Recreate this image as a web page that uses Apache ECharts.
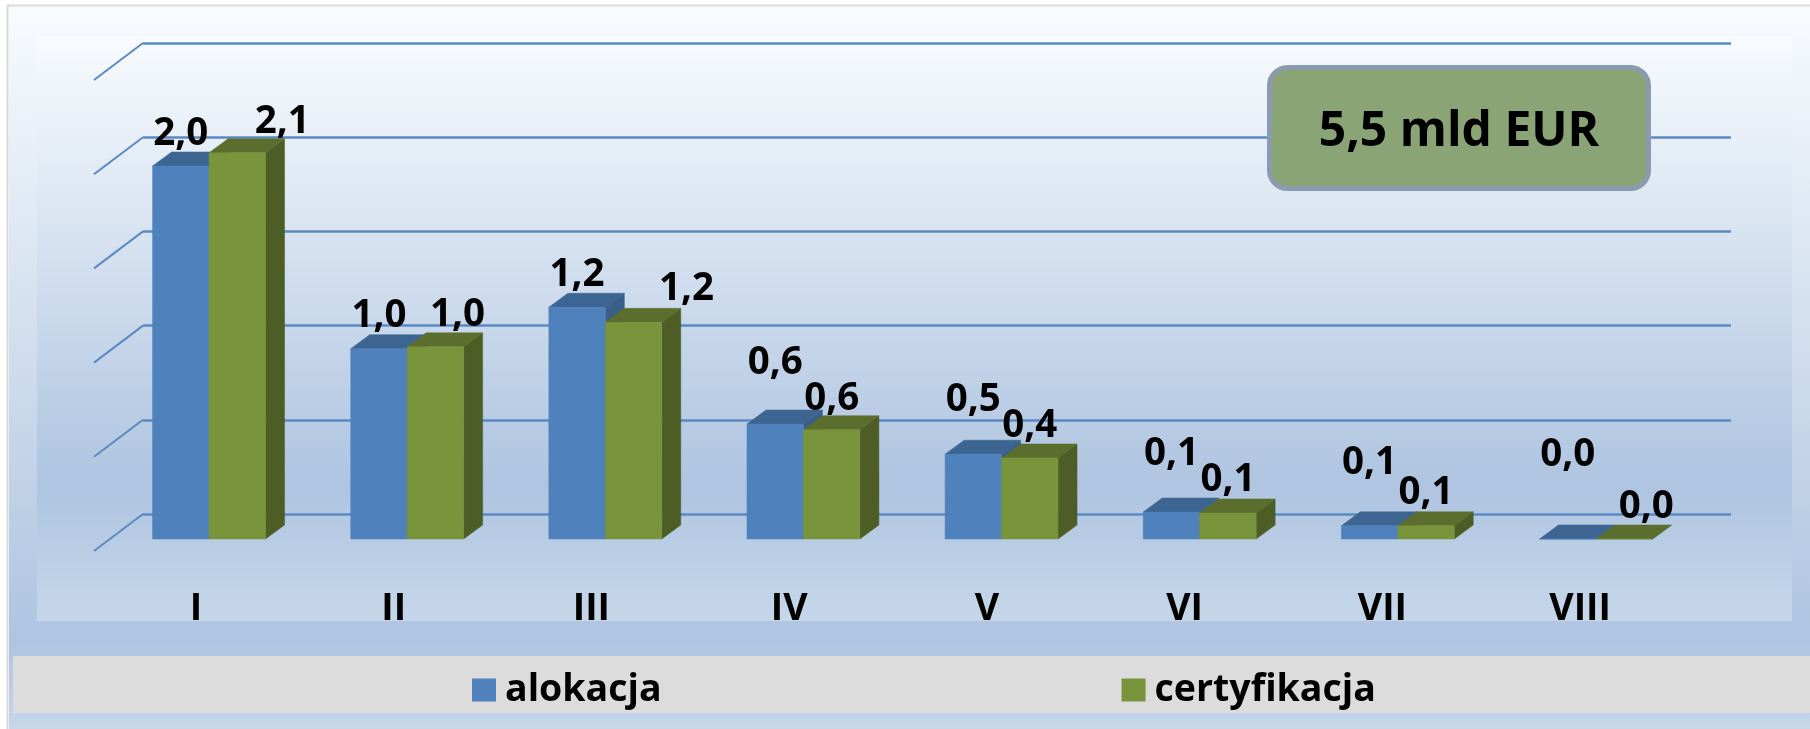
<!DOCTYPE html>
<html>
<head>
<meta charset="utf-8">
<style>html,body{margin:0;padding:0;background:#fff}#c{width:1810px;height:729px}</style>
<script src="https://cdn.jsdelivr.net/npm/echarts@6/dist/echarts.min.js"></script>
</head>
<body>
<div id="c"></div>
<script>
const categories = ['I','II','III','IV','V','VI','VII','VIII'];
const alokacja = [1.98,1.01,1.23,0.61,0.45,0.143,0.07,0];
const certyfikacja = [2.05,1.02,1.15,0.58,0.43,0.138,0.07,0];
const alokacjaLabels = ['2,0','1,0','1,2','0,6','0,5','0,1','0,1','0,0'];
const certyfikacjaLabels = ['2,1','1,0','1,2','0,6','0,4','0,1','0,1','0,0'];
const wallTicks = [0,0.5,1,1.5,2,2.5];
const noteText = '5,5 mld EUR';

const labelShiftA = [[0,-32],[0,-33],[0,-32],[0,-61],[0,-54],[0,-58],[0,-63],[0,-84]];
const labelShiftC = [[45,-31],[22,-32],[53,-33],[0,-31],[0,-32],[0,-33],[0,-33],[22,-32]];

const FONT = '"Open Sans"';
const DEPTH_X = 19, DEPTH_Y = 14, WALL_X = 49, WALL_Y = 37;

function barSeries(name, values, labels, shifts, side, front, top, dark){
  return {
    type:'custom', name, xAxisIndex:1, yAxisIndex:1, clip:false,
    itemStyle:{color:front},
    data: values.map((v,i)=>[i,v]),
    encode:{x:0,y:1},
    renderItem(params, api){
      const i = api.value(0), v = api.value(1);
      const p = api.coord([i,v]), b = api.coord([i,0]);
      const w = api.size([1,0])[0]*0.285;
      const x0 = side<0 ? p[0]-w : p[0], x1 = x0+w, yt = p[1], yb = b[1];
      const poly = (pts,fill)=>({type:'polygon',shape:{points:pts},style:{fill,stroke:fill,lineWidth:0.5}});
      const cx=(x0+x1)/2, s=shifts[i];
      return {type:'group',children:[
        poly([[x1,yt],[x1+DEPTH_X,yt-DEPTH_Y],[x1+DEPTH_X,yb-DEPTH_Y],[x1,yb]],dark),
        poly([[x0,yt],[x0+DEPTH_X,yt-DEPTH_Y],[x1+DEPTH_X,yt-DEPTH_Y],[x1,yt]],top),
        poly([[x0,yt],[x1,yt],[x1,yb],[x0,yb]],front),
        {type:'text',z2:50,style:{x:cx+s[0],y:yt+s[1],text:labels[i],fill:'#000',
          font:'bold 38.5px '+FONT,align:'center',verticalAlign:'middle'}}
      ]};
    }
  };
}

const wallFill = (x,y,w,h,stop)=>({type:'rect',silent:true,z:-10,shape:{x,y,width:w,height:h},
  style:{fill:new echarts.graphic.LinearGradient(0,0,0,1,[
    {offset:0,color:'#f8fbfe'},{offset:stop,color:'#aec4e0'},{offset:1,color:'#c6d7ea'}])}});

const chart = echarts.init(document.getElementById('c'),null,{renderer:'canvas'});
chart.setOption({
  animation:false,
  backgroundColor:'#fff',
  textStyle:{fontFamily:FONT},
  graphic:[
    {type:'rect',silent:true,z:-11,shape:{x:7.5,y:5.5,width:1810,height:730},style:{fill:'#fff',stroke:'#d9d9d9',lineWidth:2}},
    wallFill(9,7,1801,722,0.88),
    wallFill(37,36,1755,585,0.77),
    {type:'rect',silent:true,z:-9,shape:{x:13,y:656,width:1797,height:57},style:{fill:'#dcdcdc'}},
    {type:'rect',z:100,silent:true,shape:{x:1269.5,y:67.5,width:379,height:121,r:18},
      style:{fill:'#8aa476',stroke:'#8a9bb0',lineWidth:5}},
    {type:'text',z:101,silent:true,style:{x:1459,y:132,text:noteText,fill:'#000',
      font:'bold 48px '+FONT,align:'center',verticalAlign:'middle'}}
  ],
  grid:[
    {left:143,top:43,width:1588,height:471},
    {left:110,top:68,width:1585,height:471},
    {left:97,top:80,width:1582,height:471}
  ],
  xAxis:[
    {gridIndex:0,type:'value',min:0,max:1,show:false},
    {gridIndex:1,type:'category',data:categories,show:false},
    {gridIndex:2,type:'category',data:categories,
      axisLine:{show:false},axisTick:{show:false},
      axisLabel:{margin:39,color:'#000',fontFamily:FONT,fontWeight:'bold',fontSize:37.5}}
  ],
  yAxis:[
    {gridIndex:0,type:'value',min:0,max:2.5,interval:0.5,
      axisLine:{show:false},axisTick:{show:false},axisLabel:{show:false},
      splitLine:{show:true,lineStyle:{color:'#5b8ac2',width:2.5}}},
    {gridIndex:1,type:'value',min:0,max:2.5,interval:0.5,show:false,splitLine:{show:false}},
    {gridIndex:2,type:'value',min:0,max:2.5,interval:0.5,show:false,splitLine:{show:false}}
  ],
  legend:{
    left:467,top:666,itemWidth:24,itemHeight:23,itemGap:460,
    icon:'rect',selectedMode:false,
    data:['alokacja','certyfikacja'],
    textStyle:{color:'#000',fontFamily:FONT,fontWeight:'bold',fontSize:37.5,padding:[0,0,0,4]}
  },
  series:[
    {type:'custom',name:'wall',xAxisIndex:0,yAxisIndex:0,clip:false,silent:true,z:1,
      data:wallTicks.map(v=>[0,v]),encode:{x:0,y:1},
      renderItem(params,api){
        const p=api.coord([0,api.value(1)]);
        return {type:'line',shape:{x1:p[0],y1:p[1],x2:p[0]-WALL_X,y2:p[1]+WALL_Y},
          style:{stroke:'#5b8ac2',lineWidth:2}};
      }},
    barSeries('alokacja',alokacja,alokacjaLabels,labelShiftA,-1,'#4f81bd','#3d6592','#3a5f8b'),
    barSeries('certyfikacja',certyfikacja,certyfikacjaLabels,labelShiftC,1,'#7a943c','#5b6e2d','#4c5e25')
  ]
});
</script>
</body>
</html>
